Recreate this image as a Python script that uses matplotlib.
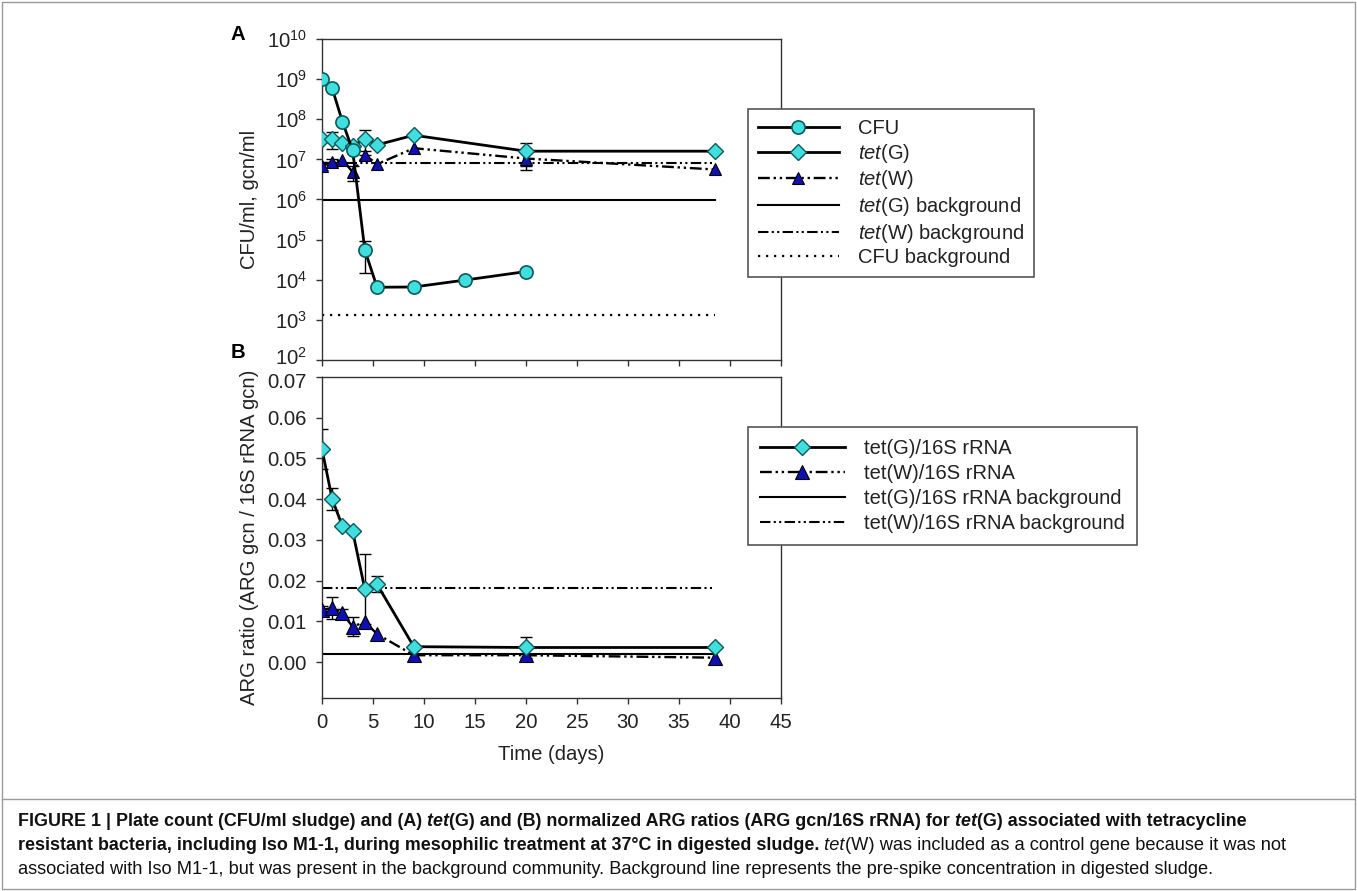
import matplotlib
matplotlib.use("Agg")
import numpy as np
import matplotlib.pyplot as plt
from matplotlib.ticker import LogFormatterSciNotation, FixedLocator, FormatStrFormatter, NullLocator
from matplotlib.lines import Line2D
from matplotlib.patches import Rectangle
from matplotlib.transforms import ScaledTranslation

plt.rcParams["font.family"] = ["Liberation Sans", "DejaVu Sans"]
plt.rcParams["mathtext.fontset"] = "custom"
plt.rcParams["mathtext.rm"] = "Liberation Sans"
plt.rcParams["mathtext.it"] = "Liberation Sans:italic"
plt.rcParams["mathtext.bf"] = "Liberation Sans:bold"

# ---------------------------------------------------------------------------
# Data
# ---------------------------------------------------------------------------
cfu_days = [0, 1, 2, 3, 4.2, 5.4, 9, 14, 20]
cfu = [1.0e9, 5.9e8, 8.7e7, 1.7e7, 5.5e4, 6.5e3, 6.6e3, 9.8e3, 1.6e4]
cfu_err = [0, 0, 0, 0, 4.0e4, 0, 0, 0, 0]

gene_days = [0, 1, 2, 3, 4.2, 5.4, 9, 20, 38.5]
tetG = [3.2e7, 3.3e7, 2.6e7, 2.1e7, 3.3e7, 2.3e7, 4.0e7, 1.6e7, 1.6e7]
tetG_err = [0, 1.5e7, 0, 0, 2.0e7, 0, 0, 0.9e7, 0]
tetW = [6.9e6, 8.7e6, 9.6e6, 4.9e6, 1.3e7, 7.6e6, 1.9e7, 1.05e7, 5.6e6]
tetW_err = [1.5e6, 1.5e6, 0, 2.0e6, 3.0e6, 0, 0, 5.0e6, 0]

bg_days = [0, 38.5]
tetG_bg = 9.5e5
tetW_bg = 7.9e6
cfu_bg = 1.35e3

ratioG = [0.0523, 0.0400, 0.0334, 0.0322, 0.0179, 0.0191, 0.0038, 0.0036, 0.0036]
ratioG_err = [0.005, 0.0027, 0, 0, 0.0086, 0.002, 0, 0.0025, 0]
ratioW = [0.0128, 0.0133, 0.0120, 0.0087, 0.0099, 0.0069, 0.0017, 0.0017, 0.0011]
ratioW_err = [0.001, 0.0026, 0.001, 0.0023, 0, 0, 0, 0, 0]
ratioG_bg = 0.0021
ratioW_bg = 0.0181

x_ticks = [0, 5, 10, 15, 20, 25, 30, 35, 40, 45]
log_ticks = [1e2, 1e3, 1e4, 1e5, 1e6, 1e7, 1e8, 1e9, 1e10]
ratio_ticks = [0.00, 0.01, 0.02, 0.03, 0.04, 0.05, 0.06, 0.07]

# ---------------------------------------------------------------------------
# Styles
# ---------------------------------------------------------------------------
W, H = 1357, 891
CYAN = "#40DEDE"
CYAN_EDGE = "#0e5a5a"
NAVY = "#1010B0"
DDOT = (0, (5, 1.6, 1, 1.6, 1, 1.6))
FS_TICK = 14.6
FS_LAB = 14.6
FS_LEG = 14.5
TXT = "#222222"

fig = plt.figure(figsize=(W / 100, H / 100), dpi=100)
axA = fig.add_axes([322 / W, 1 - 360 / H, 459 / W, 321 / H])
axB = fig.add_axes([322 / W, 1 - 698 / H, 459 / W, 321 / H])


def errbars(ax, x, y, e, color="black"):
    idx = [i for i, v in enumerate(e) if v > 0]
    if idx:
        ax.errorbar([x[i] for i in idx], [y[i] for i in idx], yerr=[e[i] for i in idx],
                    fmt="none", ecolor=color, elinewidth=1, capsize=4, capthick=1, zorder=2)


def style_axes(ax):
    for s in ax.spines.values():
        s.set_color("#333333")
        s.set_linewidth(1.0)
    ax.tick_params(direction="out", length=4, width=1, color="#333333",
                   labelsize=FS_TICK, pad=7, labelcolor=TXT)
    ax.set_xlim(0, 45)
    ax.xaxis.set_major_locator(FixedLocator(x_ticks))


# ---------------------------------------------------------------------------
# Panel A
# ---------------------------------------------------------------------------
axA.set_yscale("log")
axA.set_ylim(1e2, 1e10)
axA.yaxis.set_major_locator(FixedLocator(log_ticks))
axA.yaxis.set_major_formatter(LogFormatterSciNotation())
axA.yaxis.set_minor_locator(NullLocator())
style_axes(axA)
axA.tick_params(axis="x", labelbottom=False)

axA.plot(bg_days, [tetG_bg] * 2, color="black", lw=1.5, zorder=1)
axA.plot(bg_days, [tetW_bg] * 2, color="black", lw=1.5, ls=DDOT, zorder=1)
axA.plot(bg_days, [cfu_bg] * 2, color="black", lw=1.6, ls=(0, (1, 2.6)), zorder=1)

errbars(axA, gene_days, tetW, tetW_err)
errbars(axA, gene_days, tetG, tetG_err)
errbars(axA, cfu_days, cfu, cfu_err)
axA.plot(gene_days, tetW, color="black", lw=1.7, ls=DDOT, marker="^", ms=9,
         mfc=NAVY, mec="black", mew=0.8, zorder=3)
axA.plot(gene_days, tetG, color="black", lw=2, marker="D", ms=8,
         mfc=CYAN, mec=CYAN_EDGE, mew=1.0, zorder=4)
axA.plot(cfu_days, cfu, color="black", lw=2, marker="o", ms=9.5,
         mfc=CYAN, mec=CYAN_EDGE, mew=1.2, zorder=5)
axA.set_ylabel("CFU/ml, gcn/ml", fontsize=FS_LAB, color=TXT)
axA.yaxis.set_label_coords(-0.138, 0.5)

hA = [
    Line2D([], [], color="black", lw=2, marker="o", ms=9.5, mfc=CYAN, mec=CYAN_EDGE, mew=1.2),
    Line2D([], [], color="black", lw=2, marker="D", ms=8, mfc=CYAN, mec=CYAN_EDGE, mew=1.0),
    Line2D([], [], color="black", lw=1.7, ls=DDOT, marker="^", ms=9, mfc=NAVY, mec="black", mew=0.8),
    Line2D([], [], color="black", lw=1.5),
    Line2D([], [], color="black", lw=1.5, ls=DDOT),
    Line2D([], [], color="black", lw=1.6, ls=(0, (1, 2.6))),
]
lA = ["CFU", r"$\it{tet}$(G)", r"$\it{tet}$(W)", r"$\it{tet}$(G) background",
      r"$\it{tet}$(W) background", "CFU background"]
legA = fig.legend(hA, lA, loc="upper left", bbox_to_anchor=(748 / W, 1 - 109 / H),
                  bbox_transform=fig.transFigure, fontsize=FS_LEG, frameon=True, fancybox=False,
                  edgecolor="#555555", framealpha=1, handlelength=4.0, handletextpad=0.95,
                  labelspacing=0.18, borderpad=0.5, borderaxespad=0)
legA.get_frame().set_linewidth(1.2)
for t in legA.get_texts():
    t.set_color(TXT)

# ---------------------------------------------------------------------------
# Panel B
# ---------------------------------------------------------------------------
axB.set_ylim(-0.0088, 0.07)
axB.yaxis.set_major_locator(FixedLocator(ratio_ticks))
axB.yaxis.set_major_formatter(FormatStrFormatter("%.2f"))
style_axes(axB)

axB.plot(bg_days, [ratioG_bg] * 2, color="black", lw=1.5, zorder=1)
axB.plot(bg_days, [ratioW_bg] * 2, color="black", lw=1.5, ls=DDOT, zorder=1)
errbars(axB, gene_days, ratioW, ratioW_err)
errbars(axB, gene_days, ratioG, ratioG_err)
axB.plot(gene_days, ratioW, color="black", lw=1.7, ls=DDOT, marker="^", ms=10,
         mfc=NAVY, mec="black", mew=0.8, zorder=3)
axB.plot(gene_days, ratioG, color="black", lw=2, marker="D", ms=8,
         mfc=CYAN, mec=CYAN_EDGE, mew=1.0, zorder=4)
axB.set_ylabel("ARG ratio (ARG gcn / 16S rRNA gcn)", fontsize=FS_LAB, color=TXT)
axB.yaxis.set_label_coords(-0.138, 0.5)
axB.set_xlabel("Time (days)", fontsize=FS_LAB, color=TXT, labelpad=9)

hB = [
    Line2D([], [], color="black", lw=2, marker="D", ms=8, mfc=CYAN, mec=CYAN_EDGE, mew=1.0),
    Line2D([], [], color="black", lw=1.7, ls=DDOT, marker="^", ms=10, mfc=NAVY, mec="black", mew=0.8),
    Line2D([], [], color="black", lw=1.5),
    Line2D([], [], color="black", lw=1.5, ls=DDOT),
]
lB = ["tet(G)/16S rRNA", "tet(W)/16S rRNA", "tet(G)/16S rRNA background",
      "tet(W)/16S rRNA background"]
legB = fig.legend(hB, lB, loc="upper left", bbox_to_anchor=(748 / W, 1 - 427 / H),
                  bbox_transform=fig.transFigure, fontsize=FS_LEG, frameon=True, fancybox=False,
                  edgecolor="#555555", framealpha=1, handlelength=4.2, handletextpad=0.95,
                  labelspacing=0.3, borderpad=0.6, borderaxespad=0)
legB.get_frame().set_linewidth(1.2)
for t in legB.get_texts():
    t.set_color(TXT)

fig.text(238 / W, 1 - 35 / H, "A", fontsize=FS_LAB, fontweight="bold", ha="center", va="center")
fig.text(238 / W, 1 - 352 / H, "B", fontsize=FS_LAB, fontweight="bold", ha="center", va="center")

# the 10^2 and 0.07 labels sit right next to each other: nudge them apart a little
fig.canvas.draw()
for tk in axA.yaxis.get_major_ticks():
    if abs(tk.get_loc() - 1e2) < 1:
        tk.label1.set_transform(tk.label1.get_transform()
                                + ScaledTranslation(0, 3 / 72, fig.dpi_scale_trans))
for tk in axB.yaxis.get_major_ticks():
    if abs(tk.get_loc() - 0.07) < 1e-6:
        tk.label1.set_transform(tk.label1.get_transform()
                                + ScaledTranslation(0, -2.5 / 72, fig.dpi_scale_trans))

# ---------------------------------------------------------------------------
# Frame + caption
# ---------------------------------------------------------------------------
fig.patches.append(Rectangle((2 / W, 2 / H), 1 - 4 / W, 1 - 4 / H, transform=fig.transFigure,
                             fill=False, edgecolor="#9a9a9a", lw=1.0))
fig.add_artist(Line2D([2 / W, 1 - 2 / W], [1 - 799 / H] * 2, transform=fig.transFigure,
                      color="#9a9a9a", lw=1.0))

CAP_B = 12.85
CAP_N = 13.15
caption = [
    (822, [("FIGURE 1 | Plate count (CFU/ml sludge) and (A)", "bold", "normal"),
           (" tet", "bold", "italic"),
           ("(G) and (B) normalized ARG ratios (ARG gcn/16S rRNA) for", "bold", "normal"),
           (" tet", "bold", "italic"),
           ("(G) associated with tetracycline", "bold", "normal")]),
    (846, [("resistant bacteria, including Iso M1-1, during mesophilic treatment at 37\u00b0C in digested sludge.",
            "bold", "normal"),
           (" tet", "normal", "italic"),
           ("(W) was included as a control gene because it was not", "normal", "normal")]),
    (870, [("associated with Iso M1-1, but was present in the background community. "
            "Background line represents the pre-spike concentration in digested sludge.",
            "normal", "normal")]),
]
renderer = fig.canvas.get_renderer()
for y_px, runs in caption:
    x_px = 18
    for s, weight, style in runs:
        size = CAP_B if weight == "bold" else CAP_N
        t = fig.text(x_px / W, 1 - y_px / H, s, fontsize=size, fontweight=weight,
                     fontstyle=style, ha="left", va="center", color="#111111")
        x_px = t.get_window_extent(renderer=renderer).x1

fig.savefig("out.png", dpi=100)
